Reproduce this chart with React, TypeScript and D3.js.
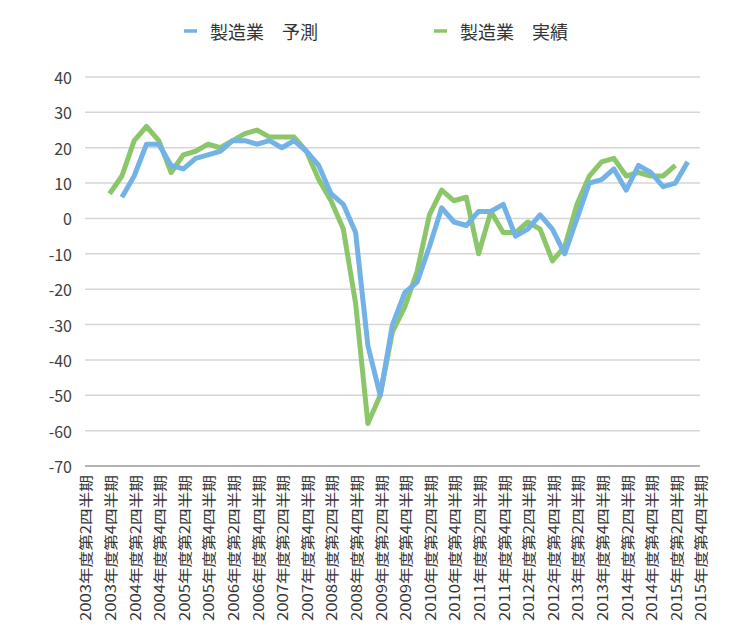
import React from "react";
import * as d3 from "d3";

const years = [2003, 2004, 2005, 2006, 2007, 2008, 2009, 2010, 2011, 2012, 2013, 2014, 2015];
const quarterNames = ["第1四半期", "第2四半期", "第3四半期", "第4四半期"];
const categories: string[] = [];
years.forEach((y) => {
  quarterNames.forEach((q, qi) => {
    if (y === 2003 && qi === 0) return;
    categories.push(`${y}年度${q}`);
  });
});

const yTicks = [40, 30, 20, 10, 0, -10, -20, -30, -40, -50, -60, -70];

// 製造業 予測 (forecast)
const forecast: (number | null)[] = [
  null, null, null, 6, 12, 21, 21, 15, 14, 17,
  18, 19, 22, 22, 21, 22, 20, 22, 19, 15,
  7, 4, -4, -36, -50, -30, -21, -18, -8, 3,
  -1, -2, 2, 2, 4, -5, -3, 1, -3, -10,
  0, 10, 11, 14, 8, 15, 13, 9, 10, 16,
  null,
];

// 製造業 実績 (actual)
const actual: (number | null)[] = [
  null, null, 7, 12, 22, 26, 22, 13, 18, 19,
  21, 20, 22, 24, 25, 23, 23, 23, 19, 11,
  5, -3, -24, -58, -50, -32, -25, -15, 1, 8,
  5, 6, -10, 2, -4, -4, -1, -3, -12, -8,
  4, 12, 16, 17, 12, 13, 12, 12, 15, null,
  null,
];

const seriesNames = ["製造業\u3000予測", "製造業\u3000実績"];
const colors = ["#72B2E6", "#8CC66A"];

const W = 750;
const H = 633;
const left = 85;
const right = 700;
const top = 77;
const bottom = 466;

export default function App() {
  const x = d3.scalePoint<string>().domain(categories).range([left, right]);
  const y = d3.scaleLinear().domain([-70, 40]).range([bottom, top]);

  const lineGen = d3
    .line<number | null>()
    .defined((d) => d != null)
    .x((_, i) => x(categories[i]) as number)
    .y((d) => y(d as number));

  const font = "'Noto Sans CJK JP', 'Noto Sans', sans-serif";

  return (
    <svg
      width={W}
      height={H}
      style={{ position: "absolute", left: 0, top: 0, background: "#fff" }}
      fontFamily={font}
    >
      <rect x={0} y={0} width={W} height={H} fill="#fff" />
      {yTicks.map((t) => (
        <line
          key={t}
          x1={left}
          x2={right}
          y1={y(t)}
          y2={y(t)}
          stroke={t === -70 ? "#9a9a9a" : "#d6d6d6"}
          strokeWidth={1.5}
        />
      ))}
      {yTicks.map((t) => (
        <text
          key={"l" + t}
          x={72}
          y={y(t)}
          textAnchor="end"
          dominantBaseline="central"
          fontSize={16}
          fill="#404040"
        >
          {t}
        </text>
      ))}
      {categories.map((c, i) =>
        i % 2 === 0 ? (
          <text
            key={c}
            transform={`translate(${x(c)},475) rotate(-90) scale(1.19,1)`}
            textAnchor="end"
            dominantBaseline="central"
            fontSize={14}
            fill="#333333"
          >
            {c}
          </text>
        ) : null
      )}
      <path
        d={lineGen(actual) || ""}
        fill="none"
        stroke={colors[1]}
        strokeWidth={5}
        strokeLinejoin="round"
      />
      <path
        d={lineGen(forecast) || ""}
        fill="none"
        stroke={colors[0]}
        strokeWidth={5}
        strokeLinejoin="round"
      />
      {seriesNames.map((n, i) => {
        const lx = i === 0 ? 184 : 434;
        return (
          <g key={n}>
            <line x1={lx} x2={lx + 13} y1={31} y2={31} stroke={colors[i]} strokeWidth={3.5} />
            <text x={lx + 26} y={31} dominantBaseline="central" fontSize={18} fill="#333333">
              {n}
            </text>
          </g>
        );
      })}
    </svg>
  );
}
